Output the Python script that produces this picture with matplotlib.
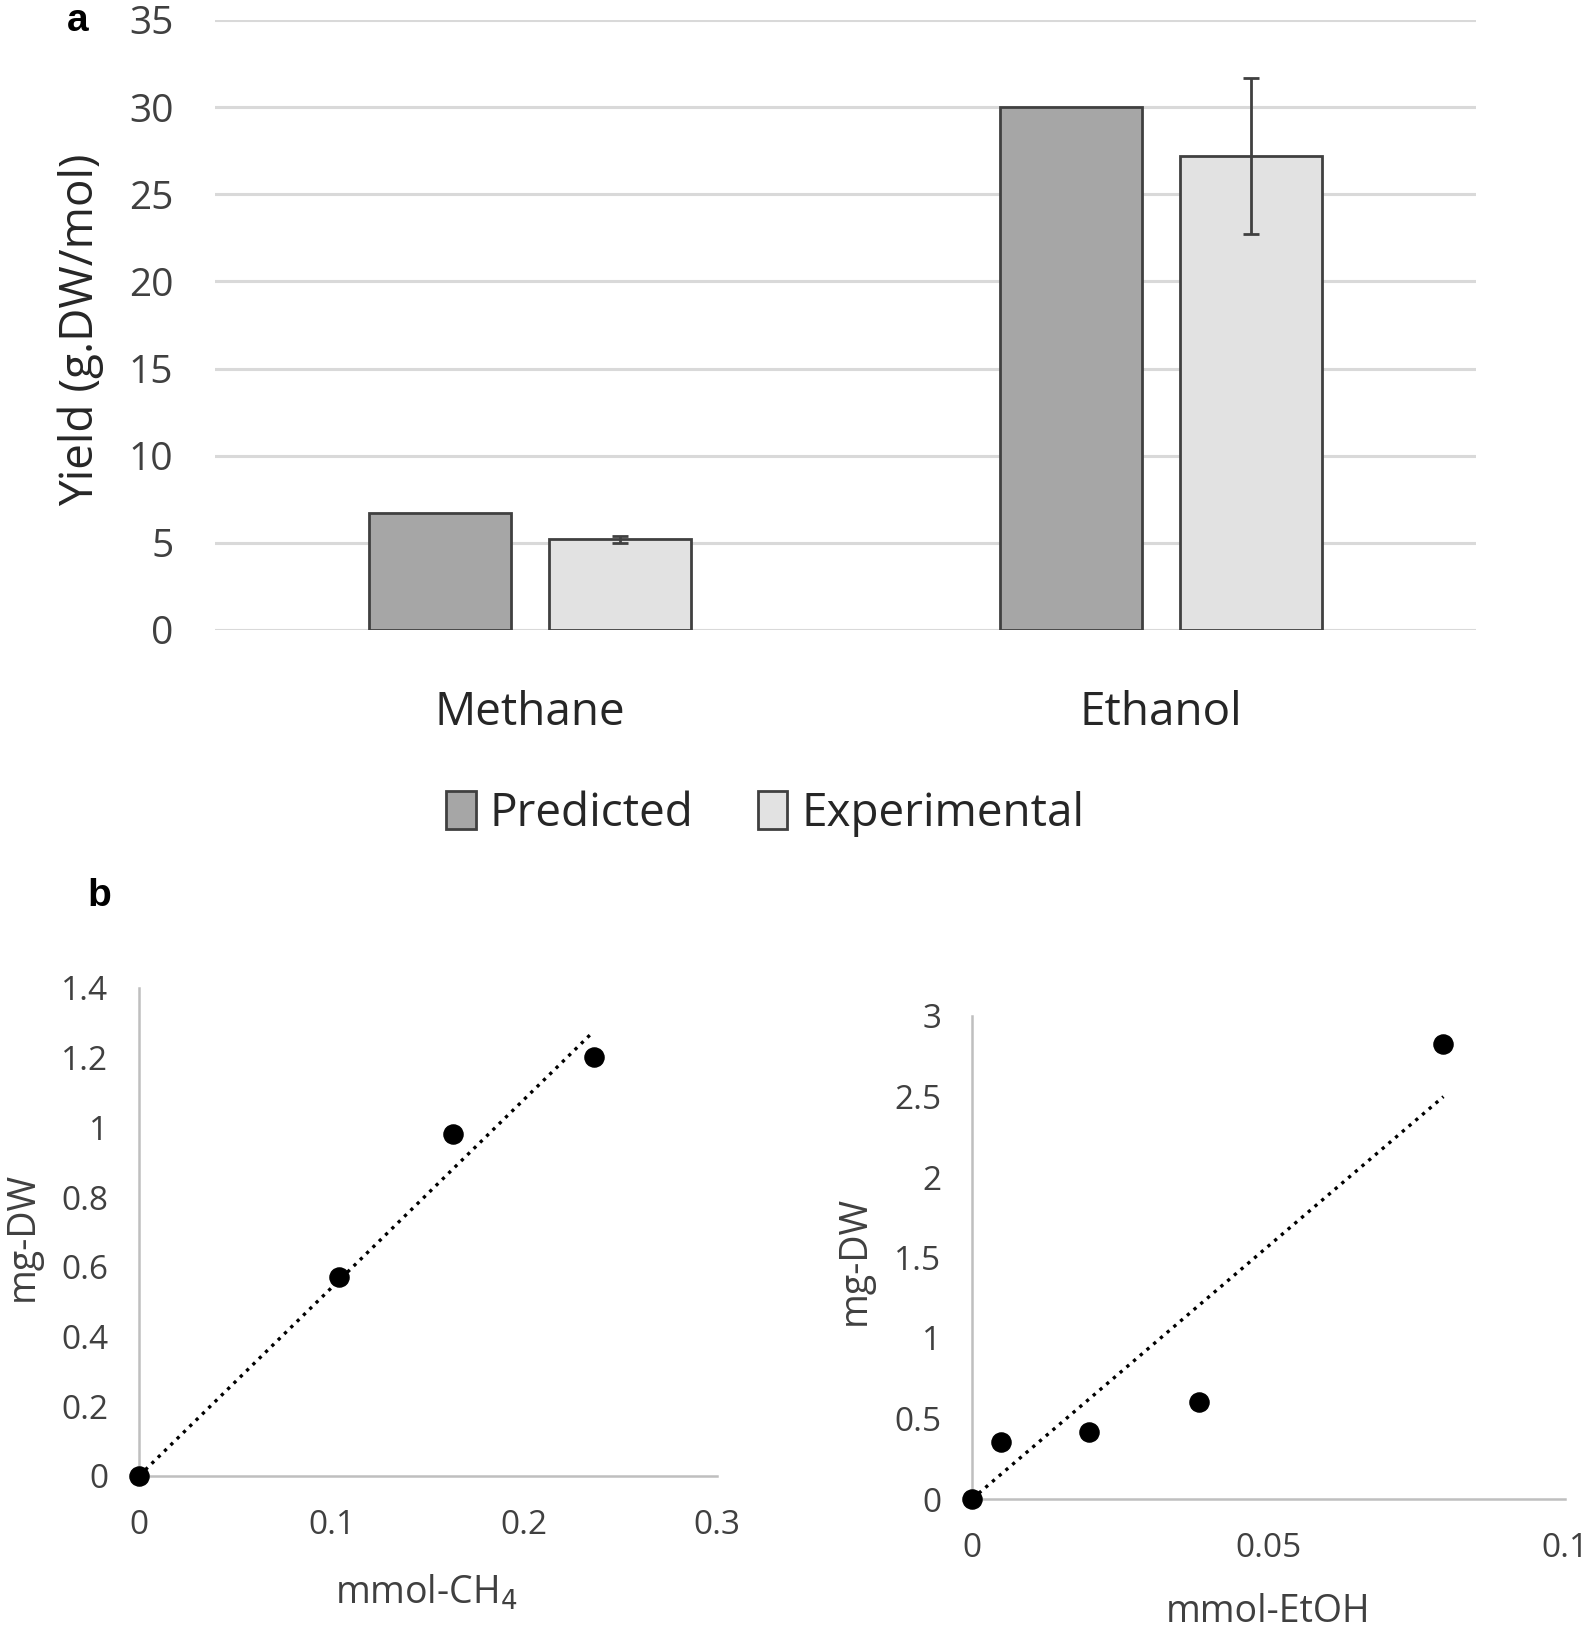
import numpy as np
import matplotlib
matplotlib.use('Agg')
import matplotlib.pyplot as plt
from matplotlib.patches import Patch

# Panel a: yield of biomass
categories = ['Methane', 'Ethanol']
predicted = [6.7, 30.0]
experimental = [5.2, 27.2]
experimental_err = [0.2, 4.5]

# Panel b left: methane
ch4_mmol = [0.0, 0.104, 0.163, 0.236]
ch4_dw = [0.0, 0.572, 0.98, 1.203]

# Panel b right: ethanol
etoh_mmol = [0.0, 0.0049, 0.0198, 0.0382, 0.0795]
etoh_dw = [0.0, 0.355, 0.419, 0.60, 2.826]

W, H = 1594, 1630
fig = plt.figure(figsize=(W / 100, H / 100), dpi=100)
plt.rcParams['font.family'] = ['Open Sans', 'DejaVu Sans']

txt_col = '#404040'
grid_col = '#d9d9d9'

# ---------- panel a ----------
ax = fig.add_axes([215 / W, 1 - 630 / H, 1261 / W, 610 / H])
x = np.arange(len(categories))
bw = 0.225
ax.bar(x - 0.1425, predicted, bw, color='#a6a6a6', edgecolor='#404040', linewidth=2, zorder=3)
ax.bar(x + 0.1425, experimental, bw, color='#e2e2e2', edgecolor='#404040', linewidth=2, zorder=3)
ax.errorbar(x + 0.1425, experimental, yerr=experimental_err, fmt='none', ecolor='#404040',
            elinewidth=2, capsize=6, capthick=2, zorder=4)
ax.set_xlim(-0.5, 1.5)
ax.set_ylim(0, 35)
ax.set_yticks(range(0, 36, 5))
ax.yaxis.grid(True, color=grid_col, linewidth=2.2, zorder=0)
for s in ax.spines.values():
    s.set_visible(False)
ax.tick_params(axis='y', length=0, labelsize=28, labelcolor=txt_col, pad=30)
ax.set_xticks(x)
ax.set_xticklabels(categories)
ax.tick_params(axis='x', length=0, labelsize=33, labelcolor='#262626', pad=43)
fig.text(81 / W, 1 - 330 / H, 'Yield (g.DW/mol)', fontsize=33, color='#262626',
         rotation=90, ha='center', va='center')

handles = [Patch(facecolor='#a6a6a6', edgecolor='#404040', linewidth=2),
           Patch(facecolor='#e2e2e2', edgecolor='#404040', linewidth=2)]
fig.legend(handles, ['Predicted', 'Experimental'], loc='center', bbox_to_anchor=(765 / W, 1 - 814 / H),
           ncol=2, frameon=False, fontsize=33, handlelength=0.65, handleheight=0.9,
           handletextpad=0.3, columnspacing=1.4, labelcolor='#262626')

fig.text(78 / W, 1 - 21 / H, 'a', fontsize=28, fontweight='bold', family='Liberation Sans',
         ha='center', va='center')
fig.text(99 / W, 1 - 896 / H, 'b', fontsize=28, fontweight='bold', family='Liberation Sans',
         ha='center', va='center')


def scatter_panel(rect, xs, ys, xlim, ylim, xticks, yticks, xfmt):
    a = fig.add_axes(rect)
    xs = np.array(xs)
    ys = np.array(ys)
    # linear trendline through origin
    k = np.sum(xs * ys) / np.sum(xs * xs)
    a.plot([0, xs.max()], [0, k * xs.max()], linestyle=':', color='black', linewidth=2.4, zorder=2)
    a.scatter(xs, ys, s=190, color='black', zorder=3, clip_on=False)
    a.set_xlim(*xlim)
    a.set_ylim(*ylim)
    a.set_xticks(xticks)
    a.set_xticklabels(xfmt)
    a.set_yticks(yticks)
    a.set_yticklabels([('%g' % v) for v in yticks])
    for s in ['top', 'right']:
        a.spines[s].set_visible(False)
    for s in ['left', 'bottom']:
        a.spines[s].set_color('#bfbfbf')
        a.spines[s].set_linewidth(1.8)
    a.tick_params(length=0, labelsize=24, labelcolor=txt_col)
    a.tick_params(axis='y', pad=22)
    a.tick_params(axis='x', pad=24)
    return a


ax2 = scatter_panel([139 / W, 1 - 1476 / H, 578 / W, 488 / H], ch4_mmol, ch4_dw,
                    (0, 0.3), (0, 1.4), [0, 0.1, 0.2, 0.3], np.arange(0, 1.41, 0.2).round(1),
                    ['0', '0.1', '0.2', '0.3'])
fig.text(23 / W, 1 - 1236 / H, 'mg-DW', fontsize=27, color=txt_col, rotation=90,
         ha='center', va='center')
fig.text(426 / W, 1 - 1593 / H, 'mmol-CH$_4$', fontsize=27, color=txt_col,
         ha='center', va='center')

ax3 = scatter_panel([972 / W, 1 - 1499 / H, 593 / W, 483 / H], etoh_mmol, etoh_dw,
                    (0, 0.1), (0, 3), [0, 0.05, 0.1], [0, 0.5, 1, 1.5, 2, 2.5, 3],
                    ['0', '0.05', '0.1'])
fig.text(855 / W, 1 - 1260 / H, 'mg-DW', fontsize=27, color=txt_col, rotation=90,
         ha='center', va='center')
fig.text(1268 / W, 1 - 1612 / H, 'mmol-EtOH', fontsize=27, color=txt_col,
         ha='center', va='center')

fig.savefig('out.png', dpi=100)
